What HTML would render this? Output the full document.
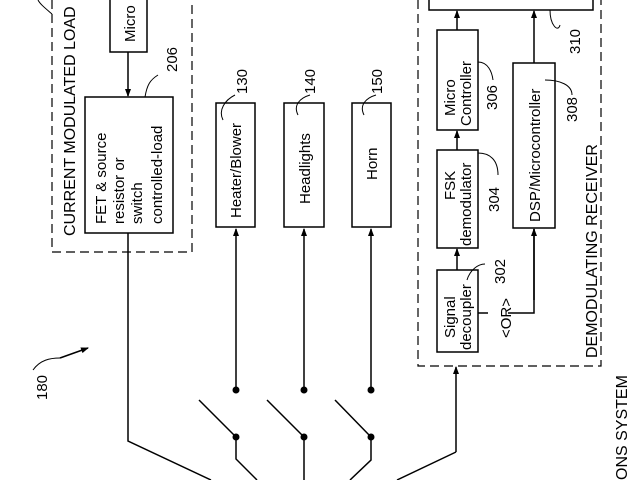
<!DOCTYPE html>
<html><head><meta charset="utf-8"><style>
html,body{margin:0;padding:0;background:#fff;width:640px;height:480px;overflow:hidden}
svg{display:block}
text{font-family:"Liberation Sans",sans-serif;fill:#000}
</style></head><body>
<svg width="640" height="480" viewBox="0 0 640 480" xmlns="http://www.w3.org/2000/svg">
<defs><marker id="a" markerWidth="8" markerHeight="8" refX="7" refY="4" orient="auto" markerUnits="userSpaceOnUse"><path d="M0,1 L8,4 L0,7 Z" fill="#000"/></marker></defs>
<g stroke="#000" fill="none" stroke-width="1.5">
<path d="M52,0 V252 H192 V0" stroke-dasharray="9,5" stroke-width="1.2"/>
<path d="M52,14 C45,8 40,4 38,0" stroke-width="1"/>
<rect x="110" y="-2" width="37" height="54"/>
<line x1="128" y1="52" x2="128" y2="96" marker-end="url(#a)"/>
<rect x="85" y="97" width="88" height="136"/>
<path d="M145,97 C147,85 150,80 158,75" stroke-width="1"/>
<path d="M128,233 V441 L211,480"/>
<rect x="216" y="103" width="39" height="124"/>
<rect x="284" y="103" width="40" height="124"/>
<rect x="352" y="103" width="39" height="124"/>
<path d="M223,120 C218,110 225,100 235,95" stroke-width="1"/>
<path d="M298,115 C293,105 300,98 310,95" stroke-width="1"/>
<path d="M364,115 C359,105 366,98 376,95" stroke-width="1"/>
<line x1="236" y1="390" x2="236" y2="229" marker-end="url(#a)"/>
<line x1="304" y1="390" x2="304" y2="229" marker-end="url(#a)"/>
<line x1="371" y1="390" x2="371" y2="229" marker-end="url(#a)"/>
<line x1="199" y1="400" x2="236" y2="437"/>
<line x1="267" y1="400" x2="304" y2="437"/>
<line x1="335" y1="400" x2="371" y2="437"/>
<path d="M236,437 V459 L257,480"/>
<path d="M304,437 V480"/>
<path d="M371,437 V460 L350,480"/>
<path d="M418,0 V366 H601 V0" stroke-dasharray="9,5" stroke-width="1.2"/>
<rect x="429" y="-5" width="164" height="15"/>
<rect x="437" y="30" width="41" height="100"/>
<rect x="437" y="150" width="41" height="98"/>
<rect x="437" y="270" width="41" height="82"/>
<rect x="513" y="63" width="42" height="165"/>
<line x1="457" y1="30" x2="457" y2="11" marker-end="url(#a)"/>
<line x1="457" y1="150" x2="457" y2="131" marker-end="url(#a)"/>
<line x1="457" y1="270" x2="457" y2="249" marker-end="url(#a)"/>
<line x1="534" y1="63" x2="534" y2="11" marker-end="url(#a)"/>
<path d="M478,313 H488 M508,313 H534 V229" />
<line x1="534" y1="300" x2="534" y2="229" marker-end="url(#a)"/>
<path d="M456,452 V367" marker-end="url(#a)"/>
<path d="M456,452 L397,480"/>
<path d="M550,10 C550,25 558,33 560,25" stroke-width="1"/>
<path d="M478,62 C488,62 492,72 493,80" stroke-width="1"/>
<path d="M478,153 C490,153 498,160 498,175" stroke-width="1"/>
<path d="M467,280 C470,270 478,264 485,264" stroke-width="1"/>
<path d="M545,80 C560,80 572,85 572,95" stroke-width="1"/>
<path d="M33,370 C40,360 50,358 60,358" stroke-width="1"/>
<line x1="60" y1="358" x2="88" y2="348" marker-end="url(#a)"/>
</g>
<g fill="#000"><circle cx="236" cy="390" r="3.5"/><circle cx="304" cy="390" r="3.5"/><circle cx="371" cy="390" r="3.5"/><circle cx="236" cy="437" r="3.5"/><circle cx="304" cy="437" r="3.5"/><circle cx="371" cy="437" r="3.5"/></g>
<g font-size="15">
<text transform="translate(75,236) rotate(-90)" font-size="16">CURRENT MODULATED LOAD</text>
<text transform="translate(135,42) rotate(-90)">Micro</text>
<text transform="translate(106,224) rotate(-90)">FET &amp; source</text>
<text transform="translate(124,224) rotate(-90)">resistor or</text>
<text transform="translate(142,224) rotate(-90)">switch</text>
<text transform="translate(162,224) rotate(-90)">controlled-load</text>
<text transform="translate(177,72) rotate(-90)">206</text>
<text transform="translate(241,218) rotate(-90)">Heater/Blower</text>
<text transform="translate(310,204) rotate(-90)">Headlights</text>
<text transform="translate(377,180) rotate(-90)">Horn</text>
<text transform="translate(247,94) rotate(-90)">130</text>
<text transform="translate(315,94) rotate(-90)">140</text>
<text transform="translate(382,94) rotate(-90)">150</text>
<text transform="translate(47,400) rotate(-90)">180</text>
<text transform="translate(455,116) rotate(-90)">Micro</text>
<text transform="translate(471,126) rotate(-90)">Controller</text>
<text transform="translate(497,110) rotate(-90)">306</text>
<text transform="translate(455,200) rotate(-90)">FSK</text>
<text transform="translate(471,246) rotate(-90)">demodulator</text>
<text transform="translate(499,212) rotate(-90)">304</text>
<text transform="translate(455,338) rotate(-90)">Signal</text>
<text transform="translate(471,350) rotate(-90)">decoupler</text>
<text transform="translate(505,284) rotate(-90)">302</text>
<text transform="translate(511,338) rotate(-90)">&lt;OR&gt;</text>
<text transform="translate(540,222) rotate(-90)">DSP/Microcontroller</text>
<text transform="translate(577,122) rotate(-90)">308</text>
<text transform="translate(580,54) rotate(-90)">310</text>
<text transform="translate(597,358) rotate(-90)" font-size="16">DEMODULATING RECEIVER</text>
<text transform="translate(627,480) rotate(-90)" font-size="16">ONS SYSTEM</text>
</g>
</svg>
</body></html>
